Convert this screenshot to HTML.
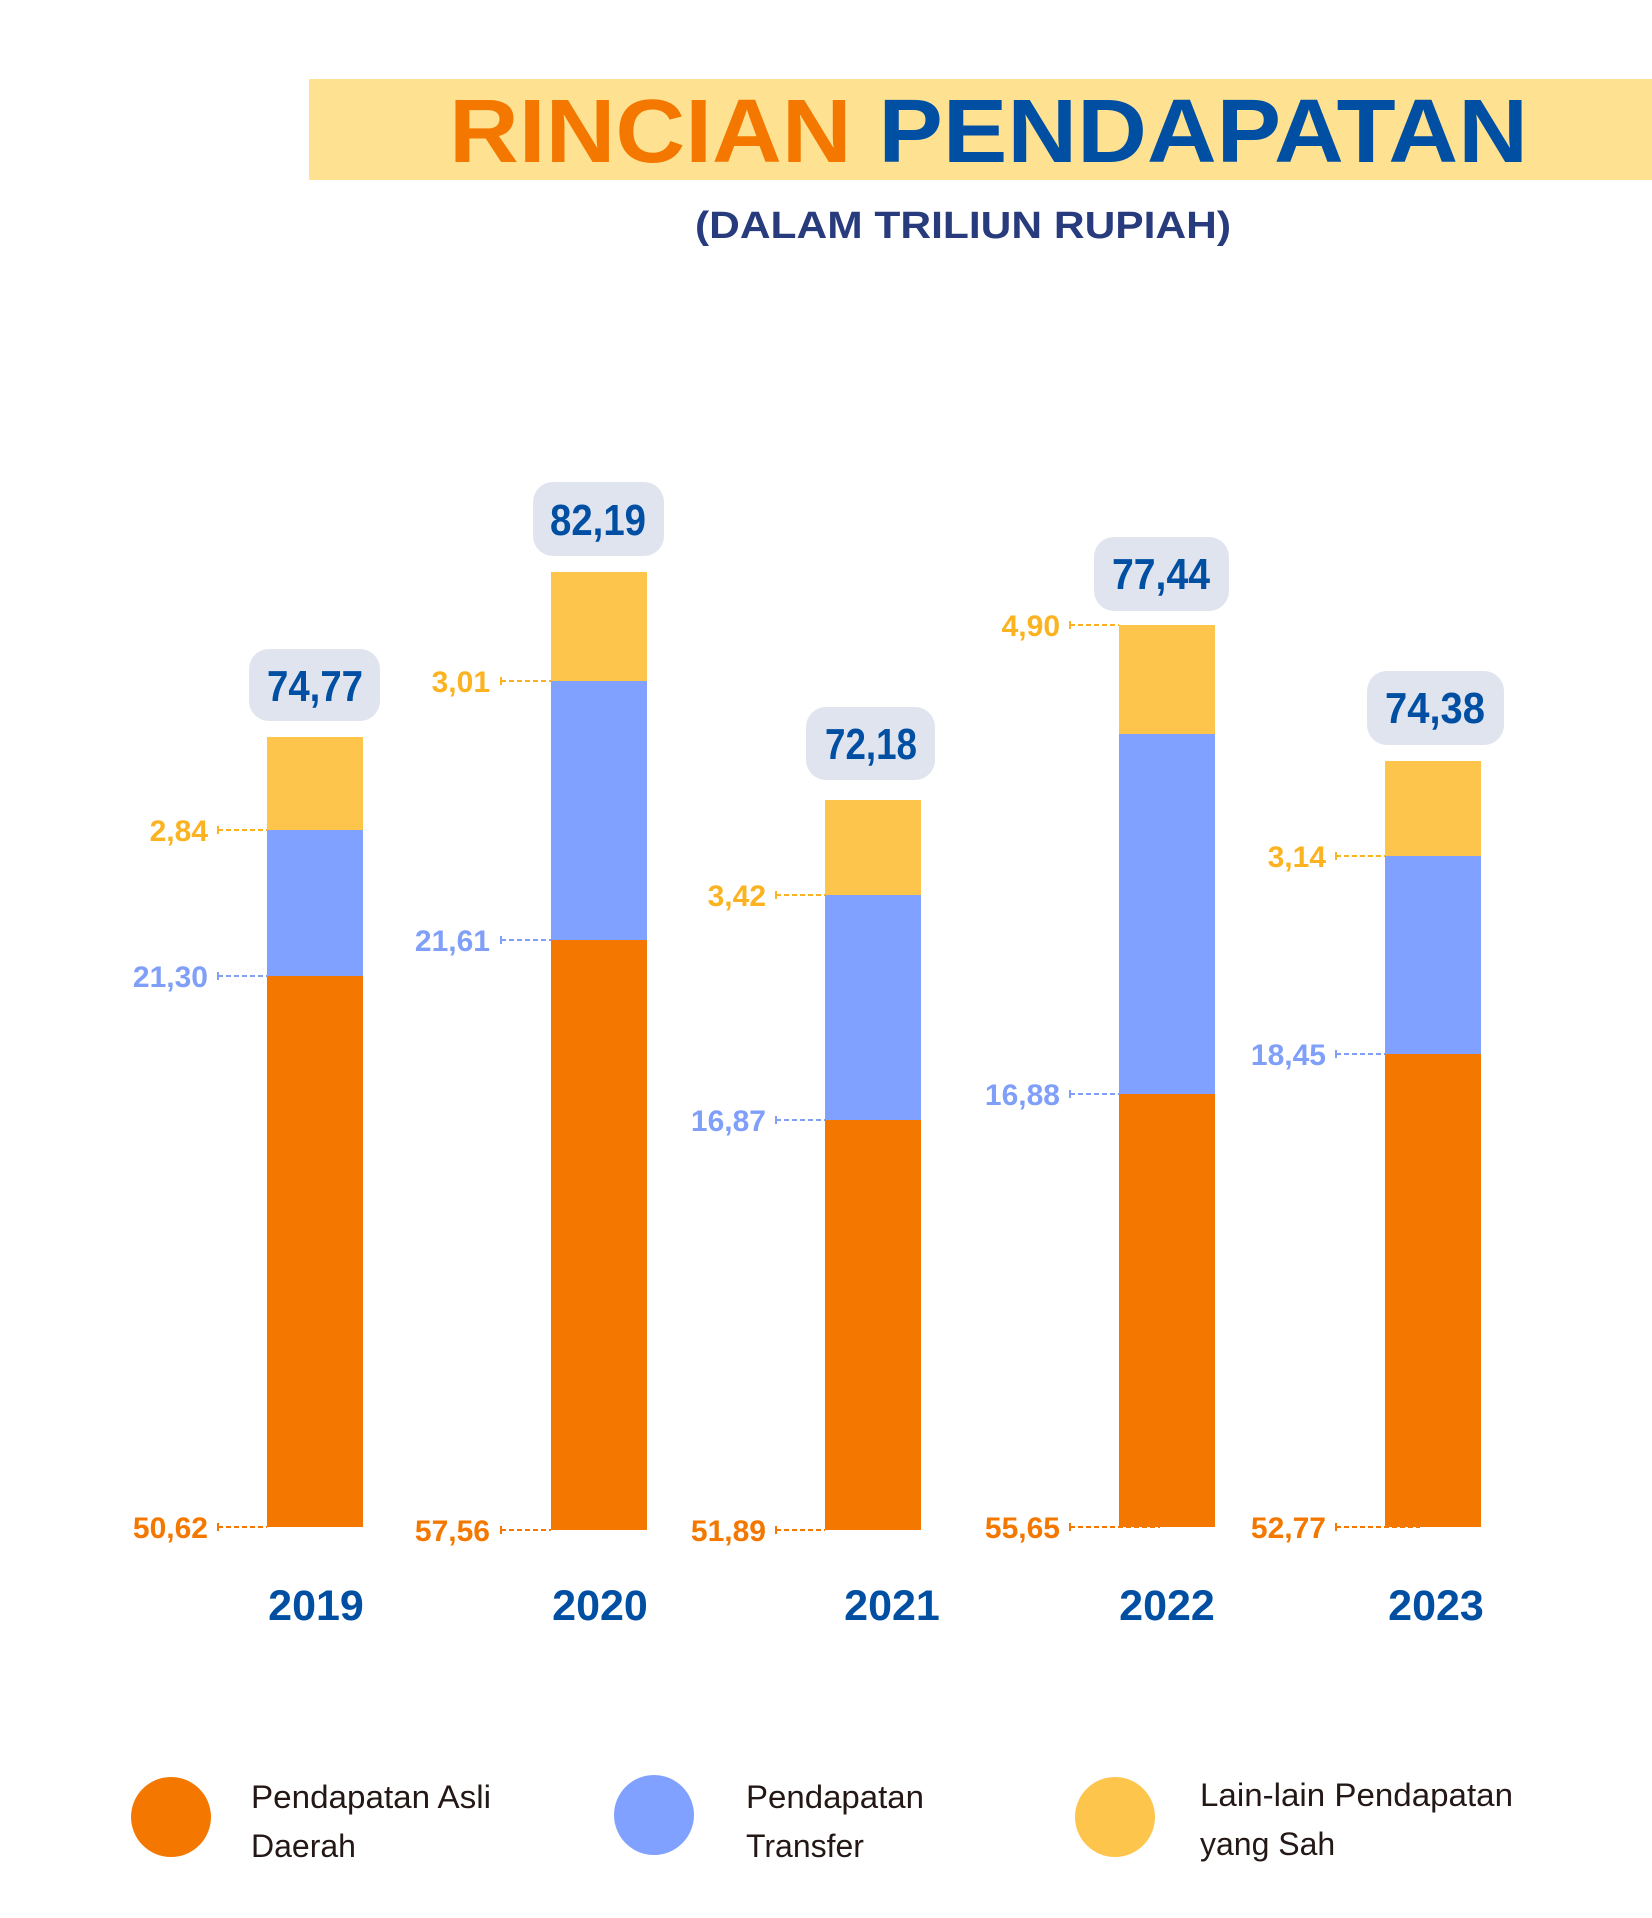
<!DOCTYPE html>
<html><head><meta charset="utf-8"><style>
html,body{margin:0;padding:0;background:#fff;}
svg{display:block;font-family:"Liberation Sans",sans-serif;}
</style></head><body>
<svg width="1652" height="1918" viewBox="0 0 1652 1918" xmlns="http://www.w3.org/2000/svg">
<rect x="309" y="79" width="1343" height="101" fill="#fee291"/>
<text x="449" y="162" font-size="90" font-weight="bold" textLength="1079" lengthAdjust="spacingAndGlyphs"><tspan fill="#f47800">RINCIAN </tspan><tspan fill="#004fa3">PENDAPATAN</tspan></text>
<text x="695" y="238" font-size="38" font-weight="bold" fill="#283b7c" textLength="536" lengthAdjust="spacingAndGlyphs">(DALAM TRILIUN RUPIAH)</text>

<g>
<rect x="267" y="737" width="96" height="93" fill="#fdc54c"/><rect x="267" y="830" width="96" height="146" fill="#80a1ff"/><rect x="267" y="976" width="96" height="551" fill="#f47800"/>
<rect x="551" y="572" width="96" height="109" fill="#fdc54c"/><rect x="551" y="681" width="96" height="259" fill="#80a1ff"/><rect x="551" y="940" width="96" height="590" fill="#f47800"/>
<rect x="825" y="800" width="96" height="95" fill="#fdc54c"/><rect x="825" y="895" width="96" height="225" fill="#80a1ff"/><rect x="825" y="1120" width="96" height="410" fill="#f47800"/>
<rect x="1119" y="625" width="96" height="109" fill="#fdc54c"/><rect x="1119" y="734" width="96" height="360" fill="#80a1ff"/><rect x="1119" y="1094" width="96" height="433" fill="#f47800"/>
<rect x="1385" y="761" width="96" height="95" fill="#fdc54c"/><rect x="1385" y="856" width="96" height="198" fill="#80a1ff"/><rect x="1385" y="1054" width="96" height="473" fill="#f47800"/>
</g>

<g fill="#e0e4ef">
<rect x="249" y="649" width="131" height="72" rx="20"/>
<rect x="533" y="482" width="131" height="74" rx="20"/>
<rect x="806" y="707" width="129" height="73" rx="20"/>
<rect x="1094" y="537" width="135" height="74" rx="20"/>
<rect x="1367" y="671" width="137" height="74" rx="20"/>
</g>
<g fill="#004fa3" font-size="44" font-weight="bold" text-anchor="middle">
<text x="315" y="701" textLength="96" lengthAdjust="spacingAndGlyphs">74,77</text>
<text x="598" y="535" textLength="96" lengthAdjust="spacingAndGlyphs">82,19</text>
<text x="871" y="759" textLength="92" lengthAdjust="spacingAndGlyphs">72,18</text>
<text x="1161" y="589" textLength="98" lengthAdjust="spacingAndGlyphs">77,44</text>
<text x="1435" y="723" textLength="100" lengthAdjust="spacingAndGlyphs">74,38</text>
</g>

<g font-size="30" font-weight="bold" text-anchor="end">
<g fill="#fbb321">
<text x="208" y="841">2,84</text><text x="490" y="692">3,01</text><text x="766" y="906">3,42</text><text x="1060" y="636">4,90</text><text x="1326" y="867">3,14</text>
</g>
<g fill="#7f9ff8">
<text x="208" y="987">21,30</text><text x="490" y="951">21,61</text><text x="766" y="1131">16,87</text><text x="1060" y="1105">16,88</text><text x="1326" y="1065">18,45</text>
</g>
<g fill="#f47800">
<text x="208" y="1538">50,62</text><text x="490" y="1541">57,56</text><text x="766" y="1541">51,89</text><text x="1060" y="1538">55,65</text><text x="1326" y="1538">52,77</text>
</g>
</g>
<g stroke-width="2" stroke-dasharray="5,3">
<g stroke="#fbb321"><path d="M218 830H267M501 681H551M776 895H825M1070 625H1119M1336 856H1385"/></g>
<g stroke="#7f9ff8"><path d="M218 976H267M501 940H551M776 1120H825M1070 1094H1119M1336 1054H1385"/></g>
<g stroke="#f47800"><path d="M218 1527H267M501 1530H551M776 1530H825M1070 1527H1160M1336 1527H1420"/></g>
</g>
<g stroke-width="2">
<path stroke="#fbb321" d="M218 826V834M501 677V685M776 891V899M1070 621V629M1336 852V860"/>
<path stroke="#7f9ff8" d="M218 972V980M501 936V944M776 1116V1124M1070 1090V1098M1336 1050V1058"/>
<path stroke="#f47800" d="M218 1523V1531M501 1526V1534M776 1526V1534M1070 1523V1531M1336 1523V1531"/>
</g>

<g fill="#004fa3" font-size="43" font-weight="bold" text-anchor="middle">
<text x="316" y="1620">2019</text><text x="600" y="1620">2020</text><text x="892" y="1620">2021</text><text x="1167" y="1620">2022</text><text x="1436" y="1620">2023</text>
</g>

<circle cx="171" cy="1817" r="40" fill="#f47800"/>
<circle cx="654" cy="1815" r="40" fill="#80a1ff"/>
<circle cx="1115" cy="1817" r="40" fill="#fdc54c"/>
<g fill="#231815" font-size="32">
<text x="251" y="1808" textLength="240" lengthAdjust="spacingAndGlyphs">Pendapatan Asli</text><text x="251" y="1857">Daerah</text>
<text x="746" y="1808" textLength="178" lengthAdjust="spacingAndGlyphs">Pendapatan</text><text x="746" y="1857">Transfer</text>
<text x="1200" y="1806" textLength="313" lengthAdjust="spacingAndGlyphs">Lain-lain Pendapatan</text><text x="1200" y="1855">yang Sah</text>
</g>
</svg>
</body></html>
